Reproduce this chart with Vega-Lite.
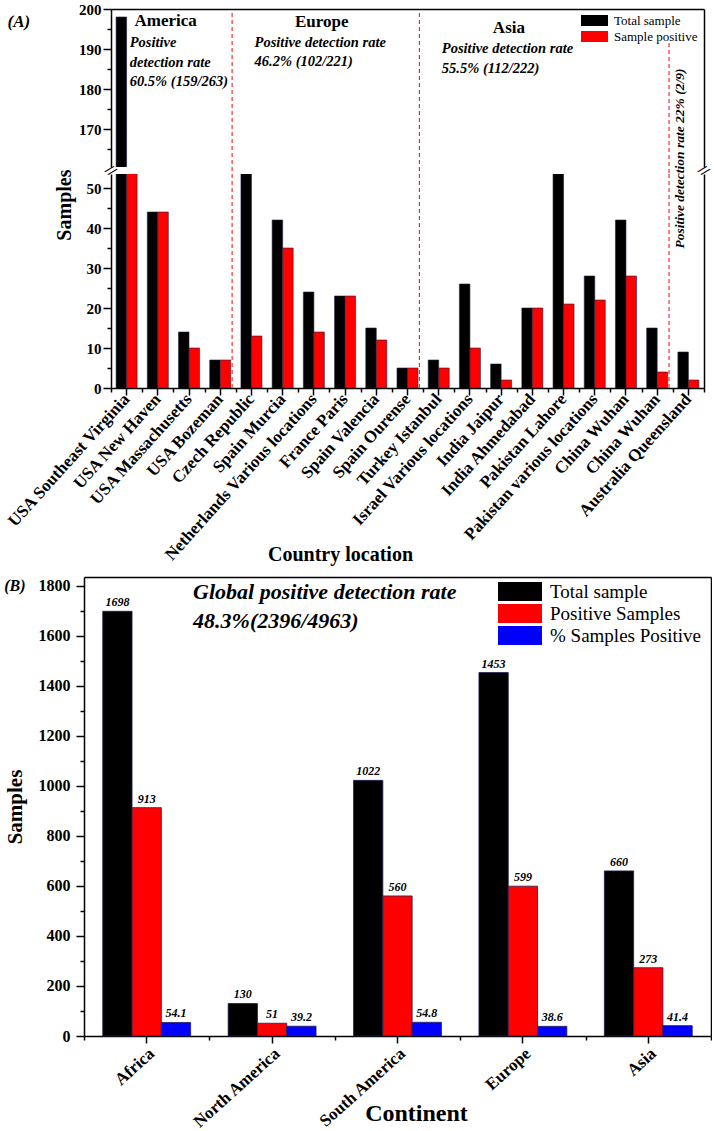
{
  "$schema": "https://vega.github.io/schema/vega-lite/v6.json",
  "padding": {"left": 3, "top": 2, "right": 0, "bottom": 0},
  "config": {
    "font": "Liberation Serif",
    "view": {"stroke": null},
    "axis": {
      "labelFont": "Liberation Serif", "labelFontWeight": "bold", "labelColor": "#000000",
      "titleFont": "Liberation Serif", "titleFontWeight": "bold", "titleColor": "#000000",
      "domainColor": "#000000", "tickColor": "#000000", "domainWidth": 1.5, "tickWidth": 1.5, "grid": false, "labelLimit": 0
    },
    "legend": {"labelFont": "Liberation Serif", "labelColor": "#000000"},
    "text": {"font": "Liberation Serif", "color": "#000000"}
  },
  "datasets": {
    "a": [
      {"loc": "USA Southeast Virginia", "type": "Total sample", "value": 198},
      {"loc": "USA Southeast Virginia", "type": "Sample positive", "value": 98},
      {"loc": "USA New Haven", "type": "Total sample", "value": 44},
      {"loc": "USA New Haven", "type": "Sample positive", "value": 44},
      {"loc": "USA Massachusetts", "type": "Total sample", "value": 14},
      {"loc": "USA Massachusetts", "type": "Sample positive", "value": 10},
      {"loc": "USA Bozeman", "type": "Total sample", "value": 7},
      {"loc": "USA Bozeman", "type": "Sample positive", "value": 7},
      {"loc": "Czech Republic", "type": "Total sample", "value": 112},
      {"loc": "Czech Republic", "type": "Sample positive", "value": 13},
      {"loc": "Spain Murcia", "type": "Total sample", "value": 42},
      {"loc": "Spain Murcia", "type": "Sample positive", "value": 35},
      {"loc": "Netherlands Various locations", "type": "Total sample", "value": 24},
      {"loc": "Netherlands Various locations", "type": "Sample positive", "value": 14},
      {"loc": "France Paris", "type": "Total sample", "value": 23},
      {"loc": "France Paris", "type": "Sample positive", "value": 23},
      {"loc": "Spain Valencia", "type": "Total sample", "value": 15},
      {"loc": "Spain Valencia", "type": "Sample positive", "value": 12},
      {"loc": "Spain Ourense", "type": "Total sample", "value": 5},
      {"loc": "Spain Ourense", "type": "Sample positive", "value": 5},
      {"loc": "Turkey Istanbul", "type": "Total sample", "value": 7},
      {"loc": "Turkey Istanbul", "type": "Sample positive", "value": 5},
      {"loc": "Israel Various locations", "type": "Total sample", "value": 26},
      {"loc": "Israel Various locations", "type": "Sample positive", "value": 10},
      {"loc": "India Jaipur", "type": "Total sample", "value": 6},
      {"loc": "India Jaipur", "type": "Sample positive", "value": 2},
      {"loc": "India Ahmedabad", "type": "Total sample", "value": 20},
      {"loc": "India Ahmedabad", "type": "Sample positive", "value": 20},
      {"loc": "Pakistan Lahore", "type": "Total sample", "value": 78},
      {"loc": "Pakistan Lahore", "type": "Sample positive", "value": 21},
      {"loc": "Pakistan various locations", "type": "Total sample", "value": 28},
      {"loc": "Pakistan various locations", "type": "Sample positive", "value": 22},
      {"loc": "China Wuhan", "type": "Total sample", "value": 42},
      {"loc": "China Wuhan", "type": "Sample positive", "value": 28},
      {"loc": "China Wuhan\u200b", "type": "Total sample", "value": 15},
      {"loc": "China Wuhan\u200b", "type": "Sample positive", "value": 4},
      {"loc": "Australia Queensland", "type": "Total sample", "value": 9},
      {"loc": "Australia Queensland", "type": "Sample positive", "value": 2}
    ],
    "b": [
      {"cont": "Africa", "type": "Total sample", "value": 1698},
      {"cont": "Africa", "type": "Positive Samples", "value": 913},
      {"cont": "Africa", "type": "% Samples Positive", "value": 54.1},
      {"cont": "North America", "type": "Total sample", "value": 130},
      {"cont": "North America", "type": "Positive Samples", "value": 51},
      {"cont": "North America", "type": "% Samples Positive", "value": 39.2},
      {"cont": "South America", "type": "Total sample", "value": 1022},
      {"cont": "South America", "type": "Positive Samples", "value": 560},
      {"cont": "South America", "type": "% Samples Positive", "value": 54.8},
      {"cont": "Europe", "type": "Total sample", "value": 1453},
      {"cont": "Europe", "type": "Positive Samples", "value": 599},
      {"cont": "Europe", "type": "% Samples Positive", "value": 38.6},
      {"cont": "Asia", "type": "Total sample", "value": 660},
      {"cont": "Asia", "type": "Positive Samples", "value": 273},
      {"cont": "Asia", "type": "% Samples Positive", "value": 41.4}
    ]
  },
  "concat": [
    {
      "hconcat": [
        {
          "width": 1, "height": 1,
          "data": {"values": [{"t": ""}]},
          "mark": {"type": "text"},
          "encoding": {"text": {"field": "t"}}
        },
        {
          "concat": [
            {
              "width": 593, "height": 158,
              "resolve": {"axis": {"x": "independent", "y": "independent"}},
              "layer": [
                {
                  "data": {"name": "a"},
                  "mark": {"type": "bar", "clip": true, "stroke": "#202040", "strokeWidth": 0.6},
                  "encoding": {
                    "x": {"field": "loc", "type": "nominal", "sort": null,
                          "scale": {"paddingInner": 0, "paddingOuter": 0, "domain": ["USA Southeast Virginia", "USA New Haven", "USA Massachusetts", "USA Bozeman", "Czech Republic", "Spain Murcia", "Netherlands Various locations", "France Paris", "Spain Valencia", "Spain Ourense", "Turkey Istanbul", "Israel Various locations", "India Jaipur", "India Ahmedabad", "Pakistan Lahore", "Pakistan various locations", "China Wuhan", "China Wuhan\u200b", "Australia Queensland"]},
                          "axis": {"orient": "top", "labels": false, "ticks": false, "title": null, "domain": true}},
                    "xOffset": {"field": "type", "type": "nominal", "sort": ["Total sample", "Sample positive"], "scale": {"domain": ["Total sample", "Sample positive"], "range": [0, 31.21], "paddingInner": 0, "paddingOuter": 0.486}},
                    "y": {"field": "value", "type": "quantitative", "scale": {"domain": [160.5, 200], "zero": false, "nice": false},
                          "axis": {"values": [170, 180, 190, 200], "tickSize": 8, "labelPadding": 2, "labelFontSize": 15,
                                   "title": "(A)", "titleAngle": 0, "titleFontStyle": "italic", "titleFontSize": 17, "titleAlign": "left", "titleBaseline": "middle", "titleX": -104, "titleY": 12}},
                    "color": {"field": "type", "type": "nominal", "sort": ["Total sample", "Sample positive"],
                              "scale": {"domain": ["Total sample", "Sample positive"], "range": ["#000000", "#ff0000"]},
                              "legend": {"orient": "none", "legendX": 469, "legendY": 5, "title": null, "symbolType": "M-1,-1H3.91V1H-1Z", "symbolSize": 121, "symbolStrokeWidth": 0, "labelFontSize": 13, "labelOffset": 21, "rowPadding": 2, "padding": 0}}
                  }
                },
                {
                  "data": {"values": [{"loc": "USA Bozeman", "ytop": 199}, {"loc": "Spain Ourense", "ytop": 199}, {"loc": "China Wuhan\u200b", "ytop": 191.5}]},
                  "mark": {"type": "rule", "color": "#ff0000", "strokeDash": [4, 3], "strokeWidth": 1},
                  "encoding": {
                    "x": {"field": "loc", "type": "nominal", "bandPosition": 0.88, "axis": null},
                    "y": {"field": "ytop", "type": "quantitative", "axis": {"orient": "right", "labels": false, "ticks": false, "title": null, "domain": true}},
                    "y2": {"datum": 158.75}
                  }
                },
                {
                  "data": {"values": [{"loc": "USA New Haven", "yv": 197.0, "t": "America"}, {"loc": "Netherlands Various locations", "yv": 196.7, "t": "Europe"}, {"loc": "India Jaipur", "yv": 195.3, "t": "Asia"}]},
                  "mark": {"type": "text", "fontWeight": "bold", "fontSize": 17, "align": "center", "baseline": "middle"},
                  "encoding": {
                    "x": {"field": "loc", "type": "nominal", "bandPosition": 0.75, "axis": null},
                    "y": {"field": "yv", "type": "quantitative", "axis": {"orient": "left", "values": [165, 175, 185, 195], "labels": false, "tickSize": 4, "domain": false, "title": null}},
                    "text": {"field": "t"}
                  }
                },
                {
                  "data": {"values": [
                    {"loc": "USA Southeast Virginia", "yv": 191.5, "t": " Positive"},
                    {"loc": "USA Southeast Virginia", "yv": 186.5, "t": "detection rate"},
                    {"loc": "USA Southeast Virginia", "yv": 181.75, "t": "60.5% (159/263)"},
                    {"loc": "Czech Republic", "yv": 191.5, "t": "Positive detection rate"},
                    {"loc": "Czech Republic", "yv": 186.75, "t": "46.2% (102/221)"},
                    {"loc": "Turkey Istanbul", "yv": 189.9, "t": "Positive detection rate"},
                    {"loc": "Turkey Istanbul", "yv": 184.9, "t": "55.5% (112/222)"}
                  ]},
                  "mark": {"type": "text", "fontWeight": "bold", "fontStyle": "italic", "fontSize": 14.5, "align": "left", "baseline": "middle"},
                  "encoding": {
                    "x": {"field": "loc", "type": "nominal", "bandPosition": 0.6, "axis": null},
                    "y": {"field": "yv", "type": "quantitative", "axis": null},
                    "text": {"field": "t"}
                  }
                },
                {
                  "data": {"values": [{"loc": "Australia Queensland", "yv": 162.6, "t": "Positive detection rate 22% (2/9)"}]},
                  "mark": {"type": "text", "fontWeight": "bold", "fontStyle": "italic", "fontSize": 13.5, "align": "center", "baseline": "middle", "angle": 270},
                  "encoding": {
                    "x": {"field": "loc", "type": "nominal", "bandPosition": 0.24, "axis": null},
                    "y": {"field": "yv", "type": "quantitative", "axis": null},
                    "text": {"field": "t"}
                  }
                }
              ]
            },
            {
              "width": 593, "height": 214,
              "resolve": {"axis": {"x": "independent", "y": "independent"}},
              "layer": [
                {
                  "data": {"name": "a"},
                  "mark": {"type": "bar", "clip": true, "stroke": "#202040", "strokeWidth": 0.6},
                  "encoding": {
                    "x": {"field": "loc", "type": "nominal", "sort": null,
                          "scale": {"paddingInner": 0, "paddingOuter": 0, "domain": ["USA Southeast Virginia", "USA New Haven", "USA Massachusetts", "USA Bozeman", "Czech Republic", "Spain Murcia", "Netherlands Various locations", "France Paris", "Spain Valencia", "Spain Ourense", "Turkey Istanbul", "Israel Various locations", "India Jaipur", "India Ahmedabad", "Pakistan Lahore", "Pakistan various locations", "China Wuhan", "China Wuhan\u200b", "Australia Queensland"]},
                          "axis": {"labelAngle": -48, "labelFontSize": 17, "tickSize": 7, "labelPadding": 1, "title": "Country location", "titleFontSize": 20, "titleX": 229, "titleY": 166, "titleBaseline": "middle"}},
                    "xOffset": {"field": "type", "type": "nominal", "sort": ["Total sample", "Sample positive"], "scale": {"domain": ["Total sample", "Sample positive"], "range": [0, 31.21], "paddingInner": 0, "paddingOuter": 0.486}},
                    "y": {"field": "value", "type": "quantitative", "scale": {"domain": [0, 53.5], "nice": false},
                          "axis": {"values": [0, 10, 20, 30, 40, 50], "title": "Samples", "titleFontSize": 20, "titleAnchor": "end", "titleY": -5, "titlePadding": 12, "tickSize": 8, "labelPadding": 2, "labelFontSize": 15}},
                    "color": {"field": "type", "type": "nominal", "sort": ["Total sample", "Sample positive"],
                              "scale": {"domain": ["Total sample", "Sample positive"], "range": ["#000000", "#ff0000"]}, "legend": null}
                  }
                },
                {
                  "data": {"values": [{"loc": "USA Bozeman", "ytop": 53.5}, {"loc": "Spain Ourense", "ytop": 53.5}, {"loc": "China Wuhan\u200b", "ytop": 53.5}]},
                  "mark": {"type": "rule", "color": "#ff0000", "strokeDash": [4, 3], "strokeWidth": 1},
                  "encoding": {
                    "x": {"field": "loc", "type": "nominal", "bandPosition": 0.88, "axis": null},
                    "y": {"field": "ytop", "type": "quantitative", "axis": {"orient": "right", "labels": false, "ticks": false, "title": null, "domain": true}},
                    "y2": {"datum": 0}
                  }
                },
                {
                  "data": {"values": [{"loc": "USA Southeast Virginia", "yv": 54.4, "t": "//"}]},
                  "mark": {"type": "text", "fontWeight": "bold", "fontSize": 15, "align": "center", "baseline": "middle", "angle": 40},
                  "encoding": {
                    "x": {"field": "loc", "type": "nominal", "bandPosition": 0,
                          "axis": {"orient": "bottom", "tickBand": "extent", "labels": false, "tickSize": 4, "domain": false, "title": null}},
                    "y": {"field": "yv", "type": "quantitative", "axis": {"orient": "left", "values": [5, 15, 25, 35, 45], "labels": false, "tickSize": 4, "domain": false, "title": null}},
                    "text": {"field": "t"}
                  }
                },
                {
                  "data": {"values": [{"loc": "Australia Queensland", "yv": 54.4, "t": "//"}]},
                  "mark": {"type": "text", "fontWeight": "bold", "fontSize": 15, "align": "center", "baseline": "middle", "angle": 40},
                  "encoding": {
                    "x": {"field": "loc", "type": "nominal", "bandPosition": 1, "axis": null},
                    "y": {"field": "yv", "type": "quantitative", "axis": null},
                    "text": {"field": "t"}
                  }
                }
              ]
            }
          ],
          "columns": 1,
          "bounds": "flush",
          "spacing": 7,
          "resolve": {"scale": {"color": "independent"}, "legend": {"color": "independent"}}
        }
      ],
      "bounds": "flush",
      "spacing": 26,
      "resolve": {"scale": {"color": "independent", "xOffset": "independent"}, "legend": {"color": "independent"}}
    },
    {
      "width": 627, "height": 459,
      "resolve": {"axis": {"x": "independent", "y": "independent"}},
      "layer": [
        {
          "data": {"name": "b"},
          "mark": {"type": "bar", "stroke": "#202050", "strokeWidth": 0.8},
          "encoding": {
            "x": {"field": "cont", "type": "nominal", "sort": null,
                  "scale": {"paddingInner": 0, "paddingOuter": 0, "domain": ["Africa", "North America", "South America", "Europe", "Asia"]},
                  "axis": {"labelAngle": -42, "labelFontSize": 17, "tickSize": 7, "labelPadding": 2, "title": "Continent", "titleFontSize": 24, "titleX": 332, "titleY": 77, "titleBaseline": "middle"}},
            "xOffset": {"field": "type", "type": "nominal", "sort": ["Total sample", "Positive Samples", "% Samples Positive"], "scale": {"domain": ["Total sample", "Positive Samples", "% Samples Positive"], "range": [0, 125.4], "paddingInner": 0, "paddingOuter": 0.64}},
            "y": {"field": "value", "type": "quantitative", "scale": {"domain": [0, 1835], "nice": false},
                  "axis": {"values": [0, 200, 400, 600, 800, 1000, 1200, 1400, 1600, 1800], "format": "d", "title": "Samples", "titleFontSize": 21, "titlePadding": 13, "tickSize": 8, "labelPadding": 6, "labelFontSize": 16}},
            "color": {"field": "type", "type": "nominal", "sort": ["Total sample", "Positive Samples", "% Samples Positive"],
                      "scale": {"domain": ["Total sample", "Positive Samples", "% Samples Positive"], "range": ["#000000", "#ff0000", "#0000ff"]},
                      "legend": {"orient": "none", "legendX": 414, "legendY": 5, "title": null, "symbolType": "M-1,-1H3.63V1H-1Z", "symbolSize": 361, "symbolStrokeWidth": 0, "labelFontSize": 19, "labelOffset": 33, "rowPadding": 2, "padding": 0}}
          }
        },
        {
          "data": {"name": "b"},
          "mark": {"type": "text", "fontWeight": "bold", "fontStyle": "italic", "fontSize": 12, "align": "center", "baseline": "alphabetic", "dy": -5},
          "encoding": {
            "x": {"field": "cont", "type": "nominal", "sort": null,
                  "axis": {"orient": "bottom", "tickBand": "extent", "labels": false, "tickSize": 4, "domain": false, "title": null}},
            "xOffset": {"field": "type", "type": "nominal", "sort": ["Total sample", "Positive Samples", "% Samples Positive"]},
            "y": {"field": "value", "type": "quantitative", "axis": {"orient": "right", "labels": false, "ticks": false, "title": null, "domain": true}},
            "text": {"field": "value", "type": "nominal"}
          }
        },
        {
          "data": {"values": [{"cont": "Africa", "yv": 1775, "t": "Global positive detection rate"}, {"cont": "Africa", "yv": 1659, "t": "48.3%(2396/4963)"}]},
          "mark": {"type": "text", "fontWeight": "bold", "fontStyle": "italic", "fontSize": 22, "align": "left", "baseline": "middle"},
          "encoding": {
            "x": {"field": "cont", "type": "nominal", "bandPosition": 0.87,
                  "axis": {"orient": "top", "labels": false, "ticks": false, "title": null, "domain": true}},
            "y": {"field": "yv", "type": "quantitative",
                  "axis": {"orient": "left", "values": [100, 300, 500, 700, 900, 1100, 1300, 1500, 1700], "labels": false, "tickSize": 4, "domain": false,
                           "title": "(B)", "titleAngle": 0, "titleFontStyle": "italic", "titleFontSize": 16, "titleAlign": "right", "titleBaseline": "middle", "titleX": -59, "titleY": 8}},
            "text": {"field": "t"}
          }
        }
      ]
    }
  ],
  "columns": 1,
  "spacing": 13,
  "resolve": {"scale": {"color": "independent", "xOffset": "independent"}, "legend": {"color": "independent"}}
}
